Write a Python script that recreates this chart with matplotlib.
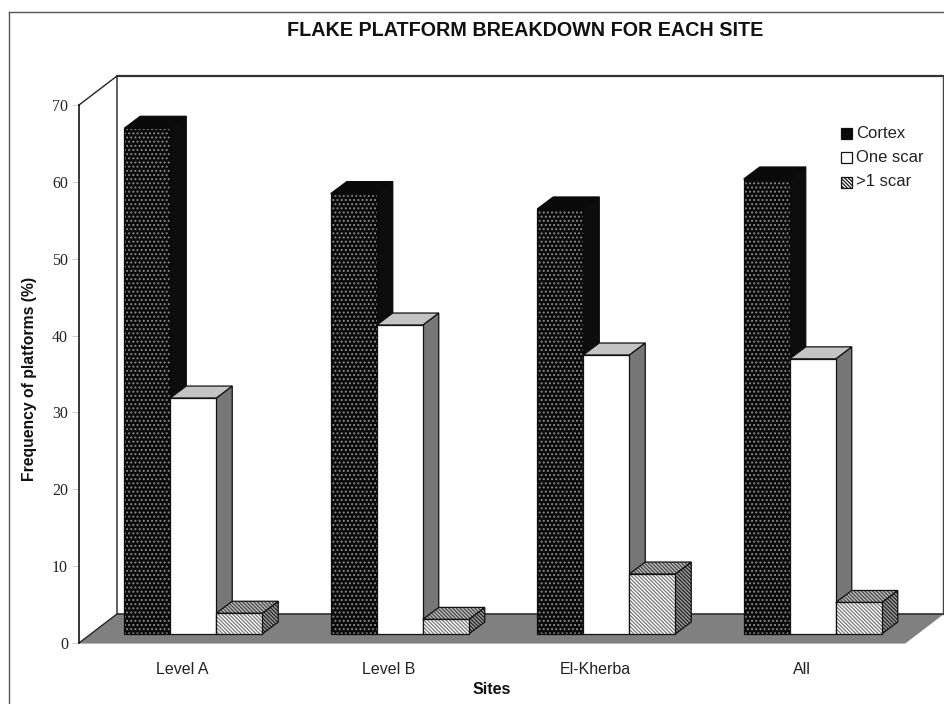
import matplotlib
matplotlib.use("Agg")
import matplotlib.pyplot as plt
from matplotlib.patches import Polygon, Rectangle

W, H = 945, 704
sites = ["Level A", "Level B", "El-Kherba", "All"]
series_names = ["Cortex", "One scar", ">1 scar"]
cortex = [65.8, 57.3, 55.3, 59.2]
one_scar = [30.7, 40.2, 36.3, 35.8]
gt1_scar = [2.7, 1.9, 7.8, 4.1]
yticks = [0, 10, 20, 30, 40, 50, 60, 70]

L, R, B, T = 79, 905, 643, 105     # axes box, pixels from top-left
DX, DY = 38, 29                    # depth of the chart box (pixels)
PX, PY = 11, 9                     # where the bar row sits in the depth
BX, BY = 16, 12                    # depth of one bar
BAR_PX = 46

plt.rcParams['hatch.linewidth'] = 0.9
fig = plt.figure(figsize=(W/100, H/100), dpi=100)
ax = fig.add_axes([L/W, 1-B/H, (R-L)/W, (B-T)/H])
ax.set_xlim(-0.5, 3.5)
ax.set_ylim(0, 70)
ax.patch.set_visible(False)
for s in ax.spines.values():
    s.set_visible(False)
ax.spines['left'].set_visible(True)
ax.spines['left'].set_linewidth(1.1)

ux = (R-L)/4      # px per category
uy = (B-T)/70     # px per value
def sx(px): return px/ux
def sy(px): return px/uy

# walls and floor
dx, dy = sx(DX), sy(DY)
ax.add_patch(Polygon([(-0.5, 0), (-0.5+dx, dy), (3.5+dx, dy), (3.5, 0)], closed=True,
                     fc="#808080", ec="#808080", lw=0.8, clip_on=False, zorder=1))
ax.plot([-0.5, -0.5+dx, -0.5+dx, 3.5+dx, 3.5+dx], [70, 70+dy, dy, dy, dy],
        color="#222222", lw=1.0, clip_on=False, zorder=1)
ax.plot([-0.5, -0.5+dx], [0, dy], color="#222222", lw=0.9, clip_on=False, zorder=1)
ax.plot([-0.5+dx, 3.5+dx], [70+dy, 70+dy], color="#333333", lw=1.6, clip_on=False, zorder=1)
ax.plot([3.5+dx, 3.5+dx], [dy, 70+dy], color="#444444", lw=1.0, clip_on=False, zorder=1)

fine = "\\" * 9
styles = [
    dict(face="#0a0a0a", hatch="....", hc="#8c8c8c", top="#0a0a0a", side="#0d0d0d",
         thatch=None, shatch=None, edge="#0a0a0a"),
    dict(face="white", hatch=None, hc="black", top="#c4c4c4", side="#777777",
         thatch=None, shatch=None, edge="#111111"),
    dict(face="white", hatch=fine, hc="#777777", top="#c0c0c0", side="#a0a0a0",
         thatch=fine, shatch=fine, edge="#111111"),
]
dark_hatch = {"top": "#444444", "side": "#222222"}

def draw_bar(x0, v, st, z):
    w = sx(BAR_PX)
    base = sy(PY)
    bx, by = sx(BX), sy(BY)
    x1 = x0 + w
    top = base + v
    front = [(x0, base), (x1, base), (x1, top), (x0, top)]
    roof = [(x0, top), (x1, top), (x1+bx, top+by), (x0+bx, top+by)]
    side = [(x1, base), (x1+bx, base+by), (x1+bx, top+by), (x1, top)]
    for pts, fc, h, hc in ((side, st["side"], st["shatch"], dark_hatch["side"]),
                           (roof, st["top"], st["thatch"], dark_hatch["top"]),
                           (front, st["face"], st["hatch"], st["hc"])):
        if h:
            ax.add_patch(Polygon(pts, closed=True, fc=fc, ec=hc, hatch=h, lw=0,
                                 clip_on=False, zorder=z))
        else:
            ax.add_patch(Polygon(pts, closed=True, fc=fc, ec="none", clip_on=False, zorder=z))
        ax.add_patch(Polygon(pts, closed=True, fc="none", ec=st["edge"], lw=0.9,
                             clip_on=False, zorder=z))

group_shift = sx(PX)
values = [cortex, one_scar, gt1_scar]
for i in range(len(sites)):
    for j, vals in enumerate(values):
        x0 = i + group_shift + (j-1.5)*sx(BAR_PX)
        draw_bar(x0, vals[i], styles[j], 3 + i*3 + j*0.5)

ax.set_yticks(yticks)
ax.set_yticklabels([str(t) for t in yticks], family="Liberation Serif", fontsize=11.5, color="#222222")
ax.tick_params(axis='y', length=5, width=0.5, color="#bbbbbb", pad=3)
ax.set_xticks(range(len(sites)))
ax.set_xticklabels(sites, family="Liberation Sans", fontsize=11.5, color="#222222")
ax.tick_params(axis='x', length=0, pad=14)

fs = dict(family="Liberation Sans", fontweight="bold", color="#111111")
fig.text(525/W, 1-30.5/H, "FLAKE PLATFORM BREAKDOWN FOR EACH SITE", ha="center", va="center", fontsize=14.2, **fs)
fig.text(492/W, 1-690/H, "Sites", ha="center", va="center", fontsize=11.5, **fs)
fig.text(30/W, 1-379/H, "Frequency of platforms (%)", ha="center", va="center", rotation=90, fontsize=11.3, **fs)

# legend
legend_y = [133, 157, 182]
for name, st, ly in zip(series_names, styles, legend_y):
    fig.add_artist(Rectangle((841/W, 1-(ly+5.5)/H), 11/W, 11/H, transform=fig.transFigure,
                             fc=st["face"], ec="#111111", lw=0.9,
                             hatch=None if name == "Cortex" else st["hatch"]))
    fig.text(856/W, 1-ly/H, name, ha="left", va="center", family="Liberation Sans",
             fontsize=12, color="#222222")

# page frame on the left and top
fig.add_artist(plt.Line2D([9.5/W, 9.5/W], [0, 1-12/H], color="#555555", lw=1.0))
fig.add_artist(plt.Line2D([9.5/W, 1], [1-12/H, 1-12/H], color="#555555", lw=1.0))

fig.savefig("out.png", dpi=100)
